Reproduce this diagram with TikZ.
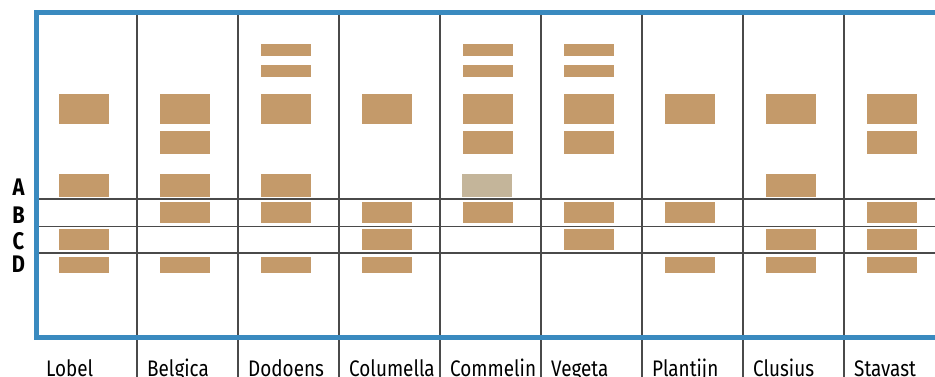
\documentclass[tikz,border=0pt]{standalone}
\usepackage{fontspec}
\setmainfont[FakeStretch=0.84]{Fira Sans}
\definecolor{frameblue}{HTML}{3A8ABF}
\definecolor{band}{HTML}{C49A6A}
\definecolor{faint}{HTML}{C4B59A}
\definecolor{rule}{HTML}{4A4A4A}
\tikzset{
  bar/.style={fill=band},
  faintbar/.style={fill=faint},
  gridline/.style={draw=rule, line width=1.2pt},
  rowlabel/.style={font=\fontsize{24}{24}\selectfont\bfseries, inner sep=0pt},
  collabel/.style={font=\fontsize{22.5}{22.5}\selectfont, inner sep=0pt, anchor=base west}
}
\begin{document}
\begin{tikzpicture}[x=1pt, y=-1pt]
  \useasboundingbox (0,0) rectangle (935,376);
  \begin{scope}
    \clip (0,0) rectangle (935,376);

    % grid
    \foreach \i in {1,...,8}
      \draw[gridline] (36+101*\i,12) -- (36+101*\i,380);
    \foreach \y in {199,226.5,253}
      \draw[gridline] (36,\y) -- (950,\y);

    % bands, one column at a time
    \foreach \c/\rows in {0/{3,5,7,8}, 1/{3,4,5,6,8}, 2/{1,2,3,5,6,8},
                          3/{3,6,7,8}, 4/{1,2,3,4,6}, 5/{1,2,3,4,6,7},
                          6/{3,6,8}, 7/{3,5,7,8}, 8/{3,4,6,7,8}}
      \foreach \r in \rows {
        \ifcase\r\or
          \def\ya{44}\def\yb{56}\or
          \def\ya{65}\def\yb{77}\or
          \def\ya{94}\def\yb{124}\or
          \def\ya{131}\def\yb{154}\or
          \def\ya{174}\def\yb{197}\or
          \def\ya{202}\def\yb{223}\or
          \def\ya{229}\def\yb{250}\or
          \def\ya{257}\def\yb{273}\fi
        \fill[bar] (59+101*\c,\ya) rectangle (109+101*\c,\yb);
      }
    \fill[faintbar] (462,174) rectangle (512,197);

    % frame
    \draw[frameblue, line width=5pt] (36,12.5) rectangle (944,337);
  \end{scope}

  \node[rowlabel] (A) at (18.5,187.5) {A};
  \node[rowlabel] (B) at (18.5,215) {B};
  \node[rowlabel] (C) at (18.5,241) {C};
  \node[rowlabel] (D) at (18.5,264.5) {D};

  \node[collabel] (lobel) at (46,376) {Lobel};
  \node[collabel] (belgica) at (147,376) {Belgica};
  \node[collabel] (dodoens) at (248,376) {Dodoens};
  \node[collabel] (columella) at (349,376) {Columella};
  \node[collabel] (commelin) at (450,376) {Commelin};
  \node[collabel] (vegeta) at (551,376) {Vegeta};
  \node[collabel] (plantijn) at (652,376) {Plantijn};
  \node[collabel] (clusius) at (753,376) {Clusius};
  \node[collabel] (stavast) at (854,376) {Stavast};

\end{tikzpicture}
\end{document}
